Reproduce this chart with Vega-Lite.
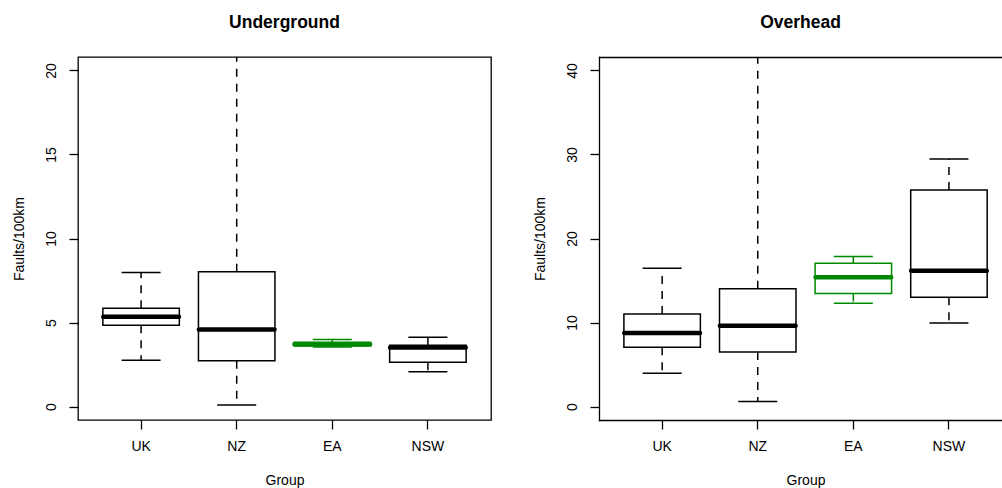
{
  "$schema": "https://vega.github.io/schema/vega-lite/v6.json",
  "autosize": {"type": "pad"},
  "padding": {"left": 11, "top": 12, "right": 0, "bottom": 0},
  "background": "white",
  "config": {
    "font": "Liberation Sans",
    "view": {"stroke": "black", "strokeWidth": 1.3},
    "tick": {"opacity": 1},
    "axis": {
      "domain": false,
      "domainColor": "black",
      "domainWidth": 1.3,
      "domainCap": "square",
      "tickColor": "black",
      "tickWidth": 1.3,
      "tickSize": 9,
      "labelColor": "black",
      "labelFontSize": 14,
      "labelFont": "Liberation Sans",
      "titleColor": "black",
      "titleFontSize": 14,
      "titleFontWeight": "normal",
      "titleFont": "Liberation Sans",
      "grid": false
    },
    "title": {"font": "Liberation Sans", "fontSize": 17.5, "fontWeight": "bold", "color": "black", "baseline": "alphabetic", "offset": 26}
  },
  "data": {
    "values": [
      {"panel": "Underground", "group": "UK", "lower": 2.76, "q1": 4.84, "median": 5.34, "q3": 5.85, "upper": 7.97},
      {"panel": "Underground", "group": "NZ", "lower": 0.1, "q1": 2.72, "median": 4.58, "q3": 8.02, "upper": 30},
      {"panel": "Underground", "group": "EA", "lower": 3.55, "q1": 3.6, "median": 3.71, "q3": 3.82, "upper": 3.99},
      {"panel": "Underground", "group": "NSW", "lower": 2.07, "q1": 2.64, "median": 3.51, "q3": 3.65, "upper": 4.12},
      {"panel": "Overhead", "group": "UK", "lower": 3.96, "q1": 7.05, "median": 8.76, "q3": 11.02, "upper": 16.45},
      {"panel": "Overhead", "group": "NZ", "lower": 0.59, "q1": 6.5, "median": 9.63, "q3": 14.03, "upper": 60},
      {"panel": "Overhead", "group": "EA", "lower": 12.28, "q1": 13.44, "median": 15.38, "q3": 17.04, "upper": 17.87},
      {"panel": "Overhead", "group": "NSW", "lower": 9.95, "q1": 13.0, "median": 16.17, "q3": 25.77, "upper": 29.45}
    ]
  },
  "hconcat": [
    {
      "width": 413,
      "height": 363,
      "title": {"text": "Underground"},
      "transform": [{"filter": "datum.panel === 'Underground'"}],
      "encoding": {
        "x": {"field": "group", "type": "nominal", "sort": ["UK", "NZ", "EA", "NSW"],
              "scale": {"paddingInner": 0.2, "paddingOuter": 0.26},
              "axis": {"title": "Group", "labelAngle": 0, "labelPadding": 10, "titleY": 64, "titleBaseline": "alphabetic"}},
        "color": {"field": "group", "type": "nominal", "legend": null,
                  "scale": {"domain": ["UK", "NZ", "EA", "NSW"], "range": ["black", "black", "#008800", "black"]}}
      },
      "layer": [
        {"mark": {"type": "rule", "strokeDash": [8, 7], "strokeWidth": 1.5, "clip": true},
         "encoding": {"y": {"field": "q3", "type": "quantitative",
              "scale": {"domain": [-0.8, 20.8], "nice": false, "zero": false},
              "axis": {"title": "Faults/100km", "values": [0, 5, 10, 15, 20], "labelAngle": -90, "labelAlign": "center", "labelBaseline": "middle", "labelPadding": 18, "titleX": -59, "titleY": 181.5, "titleAngle": -90, "titleAlign": "center", "titleBaseline": "middle"}},
              "y2": {"field": "upper"}}},
        {"mark": {"type": "rule", "strokeDash": [8, 7], "strokeWidth": 1.5, "clip": true},
         "encoding": {"y": {"field": "q1", "type": "quantitative"}, "y2": {"field": "lower"}}},
        {"mark": {"type": "tick", "size": 39, "thickness": 1.5, "orient": "horizontal", "clip": true, "opacity": 1},
         "encoding": {"y": {"field": "upper", "type": "quantitative"}}},
        {"mark": {"type": "tick", "size": 39, "thickness": 1.5, "orient": "horizontal", "clip": true, "opacity": 1},
         "encoding": {"y": {"field": "lower", "type": "quantitative"}}},
        {"mark": {"type": "bar", "fill": "white", "strokeWidth": 1.5, "clip": true},
         "encoding": {"y": {"field": "q1", "type": "quantitative"}, "y2": {"field": "q3"}, "stroke": {"field": "group", "type": "nominal", "legend": null, "scale": {"domain": ["UK", "NZ", "EA", "NSW"], "range": ["black", "black", "#008800", "black"]}}}},
        {"mark": {"type": "tick", "size": 80, "thickness": 4.5, "orient": "horizontal", "clip": true, "cornerRadius": 2, "opacity": 1},
         "encoding": {"y": {"field": "median", "type": "quantitative"}}}
      ]
    },
    {
      "width": 403,
      "height": 363,
      "view": {"stroke": null},
      "title": {"text": "Overhead"},
      "transform": [{"filter": "datum.panel === 'Overhead'"}],
      "encoding": {
        "color": {"field": "group", "type": "nominal", "legend": null,
                  "scale": {"domain": ["UK", "NZ", "EA", "NSW"], "range": ["black", "black", "#008800", "black"]}}
      },
      "resolve": {"axis": {"x": "independent"}},
      "layer": [
        {"mark": {"type": "rule", "strokeDash": [8, 7], "strokeWidth": 1.5, "clip": true},
         "encoding": {
              "x": {"field": "group", "type": "nominal", "sort": ["UK", "NZ", "EA", "NSW"],
                    "scale": {"paddingInner": 0.2, "paddingOuter": 0.2077, "align": 0.627},
                    "axis": {"title": "Group", "labelAngle": 0, "labelPadding": 10, "titleY": 64, "titleX": 206.5, "titleBaseline": "alphabetic", "domain": true}},
              "y": {"field": "q3", "type": "quantitative",
              "scale": {"domain": [-1.6, 41.6], "nice": false, "zero": false},
              "axis": {"title": "Faults/100km", "domain": true, "values": [0, 10, 20, 30, 40], "labelAngle": -90, "labelAlign": "center", "labelBaseline": "middle", "labelPadding": 18, "titleX": -59, "titleY": 181.5, "titleAngle": -90, "titleAlign": "center", "titleBaseline": "middle"}},
              "y2": {"field": "upper"}}},
        {"mark": {"type": "rule", "strokeDash": [8, 7], "strokeWidth": 1.5, "clip": true},
         "encoding": {"x": {"field": "group", "type": "nominal", "sort": ["UK", "NZ", "EA", "NSW"], "axis": {"orient": "top", "labels": false, "ticks": false, "title": null, "domain": true}},
                      "y": {"field": "q1", "type": "quantitative"}, "y2": {"field": "lower"}}},
        {"mark": {"type": "tick", "size": 39, "thickness": 1.5, "orient": "horizontal", "clip": true, "opacity": 1},
         "encoding": {"x": {"field": "group", "type": "nominal", "sort": ["UK", "NZ", "EA", "NSW"], "axis": null}, "y": {"field": "upper", "type": "quantitative"}}},
        {"mark": {"type": "tick", "size": 39, "thickness": 1.5, "orient": "horizontal", "clip": true, "opacity": 1},
         "encoding": {"x": {"field": "group", "type": "nominal", "sort": ["UK", "NZ", "EA", "NSW"], "axis": null}, "y": {"field": "lower", "type": "quantitative"}}},
        {"mark": {"type": "bar", "fill": "white", "strokeWidth": 1.5, "clip": true},
         "encoding": {"x": {"field": "group", "type": "nominal", "sort": ["UK", "NZ", "EA", "NSW"], "axis": null}, "y": {"field": "q1", "type": "quantitative"}, "y2": {"field": "q3"}, "stroke": {"field": "group", "type": "nominal", "legend": null, "scale": {"domain": ["UK", "NZ", "EA", "NSW"], "range": ["black", "black", "#008800", "black"]}}}},
        {"mark": {"type": "tick", "size": 80, "thickness": 4.5, "orient": "horizontal", "clip": true, "cornerRadius": 2, "opacity": 1},
         "encoding": {"x": {"field": "group", "type": "nominal", "sort": ["UK", "NZ", "EA", "NSW"], "axis": null}, "y": {"field": "median", "type": "quantitative"}}}
      ]
    }
  ],
  "spacing": 108,
  "bounds": "flush"
}
